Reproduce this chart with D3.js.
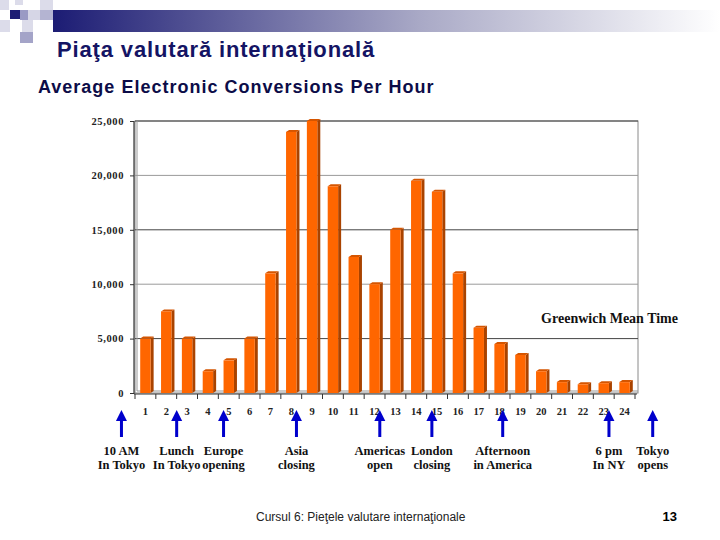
<!DOCTYPE html>
<html>
<head>
<meta charset="utf-8">
<script src="https://cdn.jsdelivr.net/npm/d3@7"></script>
<style>
  body { margin: 0; background: #fff; }
  svg { display: block; }
</style>
</head>
<body>
<div id="chart"></div>
<script>
// Average electronic conversions per hour (GMT)
const hours = [1, 2, 3, 4, 5, 6, 7, 8, 9, 10, 11, 12, 13, 14, 15, 16, 17, 18, 19, 20, 21, 22, 23, 24];
const conversions = [5000, 7500, 5000, 2000, 3000, 5000, 11000, 24000, 25000, 19000, 12500, 10000,
                     15000, 19500, 18500, 11000, 6000, 4500, 3500, 2000, 1000, 800, 900, 1000];
const yTicks = [0, 5000, 10000, 15000, 20000, 25000];

// market events, placed on the hour axis
const eventHours = [-0.15, 2.5, 4.75, 8.25, 12.25, 14.75, 18.15, 23.25, 25.35];
const eventLabels = [
    ["10 AM", "In Tokyo"], ["Lunch", "In Tokyo"], ["Europe", "opening"], ["Asia", "closing"],
    ["Americas", "open"], ["London", "closing"], ["Afternoon", "in America"], ["6 pm", "In NY"], ["Tokyo", "opens"]
];

const W = 720, H = 540;
const plot = { left: 135, right: 635, top: 121, bottom: 393 };

const svg = d3.select("#chart").append("svg")
    .attr("width", W)
    .attr("height", H);

const defs = svg.append("defs");
const grad = defs.append("linearGradient").attr("id", "topbar");
grad.append("stop").attr("offset", "0%").attr("stop-color", "#1c1c74");
grad.append("stop").attr("offset", "55%").attr("stop-color", "#a9a9c6");
grad.append("stop").attr("offset", "100%").attr("stop-color", "#ffffff");

// slide decoration
svg.append("rect").attr("x", 53).attr("y", 10).attr("width", 667).attr("height", 22).attr("fill", "url(#topbar)");
const squares = [
    [0, 0, 9, 10, "#dcdcea"], [15, 0, 8, 5, "#dcdcea"], [40, 0, 13, 10, "#dcdcea"],
    [10, 10, 10, 9, "#1c1c74"], [20, 10, 8, 10, "#9a9ac4"], [28, 10, 12, 10, "#d6d6e6"], [40, 10, 13, 10, "#b4b4d2"],
    [0, 20, 10, 12, "#dcdcea"], [22, 20, 11, 12, "#dcdcea"], [20, 32, 13, 11, "#a4a4c8"]
];
svg.selectAll(".sq").data(squares).enter().append("rect")
    .attr("x", d => d[0]).attr("y", d => d[1]).attr("width", d => d[2]).attr("height", d => d[3])
    .attr("fill", d => d[4]);

svg.append("text")
    .attr("x", 57).attr("y", 57)
    .attr("font-family", "Liberation Sans, Arial, sans-serif")
    .attr("font-size", 22)
    .attr("font-weight", "bold")
    .attr("letter-spacing", 0.85)
    .attr("fill", "#141464")
    .text("Piaţa valutară internaţională");

svg.append("text")
    .attr("x", 38).attr("y", 93)
    .attr("font-family", "Liberation Sans, Arial, sans-serif")
    .attr("font-size", 18)
    .attr("font-weight", "bold")
    .attr("letter-spacing", 1)
    .attr("fill", "#0c0c48")
    .text("Average Electronic Conversions Per Hour");

// scales
const x = d3.scaleBand()
    .domain(hours)
    .range([plot.left, plot.right])
    .paddingInner(0.5)
    .paddingOuter(0.25);

const hourX = d3.scaleLinear()
    .domain([0.5, 24.5])
    .range([plot.left, plot.right]);

const y = d3.scaleLinear()
    .domain([0, 25000])
    .range([plot.bottom, plot.top]);

// back wall frame + gridlines
svg.append("rect")
    .attr("x", plot.left).attr("y", plot.top)
    .attr("width", plot.right - plot.left + 3).attr("height", plot.bottom - plot.top)
    .attr("fill", "none").attr("stroke", "#8a8a8a");

svg.selectAll(".grid").data(yTicks.slice(1)).enter().append("line")
    .attr("x1", plot.left).attr("x2", plot.right + 3)
    .attr("y1", d => y(d)).attr("y2", d => y(d))
    .attr("stroke", (d, i) => i % 2 ? "#9a9a9a" : "#444");

// left wall and floor
svg.append("line").attr("x1", plot.left - 1).attr("x2", plot.left - 1)
    .attr("y1", plot.top).attr("y2", plot.bottom + 1).attr("stroke", "#333").attr("stroke-width", 1.2);
svg.append("line").attr("x1", plot.left + 2).attr("x2", plot.left + 2)
    .attr("y1", plot.top).attr("y2", plot.bottom - 2).attr("stroke", "#999");
svg.append("line").attr("x1", plot.left + 2).attr("x2", plot.right + 3)
    .attr("y1", plot.bottom - 2).attr("y2", plot.bottom - 2).attr("stroke", "#999");

// y axis
const yAxis = svg.append("g")
    .attr("transform", `translate(${plot.left - 1},0)`)
    .call(d3.axisLeft(y).tickValues(yTicks).tickSize(4).tickPadding(6).tickFormat(d3.format(",")));
yAxis.select(".domain").remove();
yAxis.selectAll("text")
    .attr("font-family", "Liberation Serif, Times New Roman, serif")
    .attr("font-weight", "bold")
    .attr("font-size", 10.5)
    .attr("letter-spacing", 0.6)
    .attr("fill", "#222");
yAxis.selectAll("line").attr("stroke", "#333");

// x axis
svg.append("line")
    .attr("x1", plot.left - 1).attr("x2", plot.right + 2)
    .attr("y1", plot.bottom + 1).attr("y2", plot.bottom + 1)
    .attr("stroke", "#333").attr("stroke-width", 1.2);
svg.selectAll(".xtick").data(hours.concat([25])).enter().append("line")
    .attr("x1", d => hourX(d - 0.5)).attr("x2", d => hourX(d - 0.5))
    .attr("y1", plot.bottom + 1).attr("y2", plot.bottom + 6)
    .attr("stroke", "#333");
svg.selectAll(".xlab").data(hours).enter().append("text")
    .attr("x", d => x(d) + x.bandwidth() / 2)
    .attr("y", plot.bottom + 22)
    .attr("text-anchor", "middle")
    .attr("font-family", "Liberation Serif, Times New Roman, serif")
    .attr("font-weight", "bold")
    .attr("font-size", 10.5)
    .attr("fill", "#222")
    .text(d => d);

// 3D-ish bars
const depth = 3;
const bars = svg.selectAll(".bar").data(hours).enter().append("g").attr("class", "bar");
const bw = x.bandwidth();
bars.append("polygon")
    .attr("points", (d, i) => {
        const x0 = x(d) + bw, yt = y(conversions[i]), yb = y(0);
        return [[x0, yt], [x0 + depth, yt - 2], [x0 + depth, yb - 2], [x0, yb]].join(" ");
    })
    .attr("fill", "#a94300");
bars.append("polygon")
    .attr("points", (d, i) => {
        const x0 = x(d), yt = y(conversions[i]);
        return [[x0, yt], [x0 + depth, yt - 2], [x0 + bw + depth, yt - 2], [x0 + bw, yt]].join(" ");
    })
    .attr("fill", "#d55500");
bars.append("rect")
    .attr("x", d => x(d))
    .attr("y", (d, i) => y(conversions[i]))
    .attr("width", bw)
    .attr("height", (d, i) => y(0) - y(conversions[i]))
    .attr("fill", "#ff6600");

svg.append("text")
    .attr("x", 678).attr("y", 323)
    .attr("text-anchor", "end")
    .attr("font-family", "Liberation Serif, Times New Roman, serif")
    .attr("font-weight", "bold")
    .attr("font-size", 14)
    .attr("fill", "#111")
    .text("Greenwich Mean Time");

// event arrows
const arrows = svg.selectAll(".evt").data(eventHours).enter().append("g")
    .attr("transform", d => `translate(${hourX(d)},0)`);
arrows.append("rect")
    .attr("x", -1.5).attr("y", 420).attr("width", 3).attr("height", 17)
    .attr("fill", "#0000cc");
arrows.append("path")
    .attr("d", "M0,410 L-5.5,421 L5.5,421 Z")
    .attr("fill", "#0000cc");
arrows.append("text")
    .attr("text-anchor", "middle")
    .attr("font-family", "Liberation Serif, Times New Roman, serif")
    .attr("font-weight", "bold")
    .attr("font-size", 12.5)
    .attr("fill", "#111")
    .selectAll("tspan")
    .data((d, i) => eventLabels[i])
    .enter().append("tspan")
    .attr("x", 0)
    .attr("y", (d, j) => 455 + j * 14)
    .text(d => d);

// footer
svg.append("text")
    .attr("x", 256).attr("y", 521)
    .attr("font-family", "Liberation Sans, Arial, sans-serif")
    .attr("font-size", 12)
    .attr("fill", "#222")
    .text("Cursul 6: Pieţele valutare internaţionale");
svg.append("text")
    .attr("x", 677).attr("y", 521)
    .attr("text-anchor", "end")
    .attr("font-family", "Liberation Sans, Arial, sans-serif")
    .attr("font-weight", "bold")
    .attr("font-size", 13)
    .attr("fill", "#000")
    .text("13");
</script>
</body>
</html>
